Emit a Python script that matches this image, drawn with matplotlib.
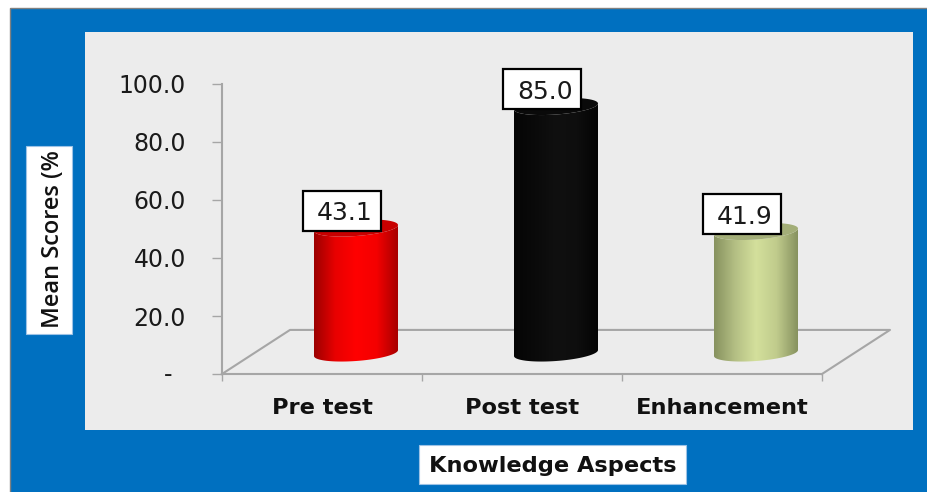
import numpy as np
import matplotlib
matplotlib.use("Agg")
import matplotlib.pyplot as plt
from matplotlib.colors import LinearSegmentedColormap
from matplotlib.patches import Rectangle, Polygon

categories = ["Pre test", "Post test", "Enhancement"]
scores = [43.1, 85.0, 41.9]
yticks = [0, 20, 40, 60, 80, 100]
ytick_labels = ["", "20.0", "40.0", "60.0", "80.0", "100.0"]

# shading across each cylinder, plus the colour of its top face
bar_shades = [
    ["#9c0000", "#e80000", "#ff0000", "#f40000", "#a80000"],
    ["#050505", "#0a0a0a", "#101010", "#0e0e0e", "#040404"],
    ["#87925f", "#b4bf84", "#d4e09c", "#c0cb8c", "#87925f"],
]
cap_colors = ["#c80000", "#0a0a0a", "#a3ae78"]

W, H = 927, 492
AXIS_GREY = "#a6a6a6"

# floor depth and cylinder geometry, in data units
DEPTH_X, DEPTH_Y = 0.34, 15.2
BAR_SHIFT, BAR_BASE = 0.17, 7.24
RX, RY, TILT = 0.21, 2.76, 1.03
# value box size and its offset from the middle of the cylinder top
BOX_W, BOX_H = 0.39, 13.8
BOX_DX, BOX_DY = -0.068, 5.9


def px_rect(x0, y0, x1, y1, **kw):
    # rectangle on the figure, given in pixels from the top left
    return Rectangle((x0 / W, 1 - y1 / H), (x1 - x0) / W, (y1 - y0) / H,
                     transform=fig.transFigure, **kw)


def ellipse(cx, cy, t):
    return cx + RX * np.cos(t), cy - RY * np.sin(t) + TILT * np.cos(t)


def cylinder(ax, cx, value, shades, cap):
    top = BAR_BASE + value
    bx, by = ellipse(cx, BAR_BASE, np.linspace(np.pi, 0, 60))
    tx, ty = ellipse(cx, top, np.linspace(0, np.pi, 60))
    outline = np.column_stack([np.r_[bx, tx], np.r_[by, ty]])
    body = Polygon(outline, closed=True, fc="none", ec="none", transform=ax.transData)
    ax.add_patch(body)
    cmap = LinearSegmentedColormap.from_list("shade", shades)
    img = ax.imshow(np.linspace(0, 1, 128)[None, :], cmap=cmap, aspect="auto",
                    extent=(cx - RX, cx + RX, BAR_BASE - 10, top + 10), zorder=3)
    img.set_clip_path(body)
    cx2, cy2 = ellipse(cx, top, np.linspace(0, 2 * np.pi, 80))
    ax.add_patch(Polygon(np.column_stack([cx2, cy2]), closed=True, fc=cap, ec="none",
                         zorder=4, clip_on=False))


fig = plt.figure(figsize=(W / 100, H / 100), dpi=100, facecolor="white")

fig.add_artist(px_rect(10, 8, 930, 495, fc="#0070c0", ec="#808080", lw=1))
fig.add_artist(px_rect(85, 32, 913, 430, fc="#ececec", ec="none"))
fig.add_artist(px_rect(26, 146, 72, 334, fc="white", ec="#9dc3e6", lw=0.8))
fig.add_artist(px_rect(419, 445, 686, 484, fc="white", ec="#9dc3e6", lw=0.8))

ax = fig.add_axes([222 / W, 1 - 374 / H, 600 / W, 290 / H], facecolor="none")
ax.set_zorder(2)

# floor of the 3-D box, drawn behind the cylinders
ax.plot([0, DEPTH_X, 3 + DEPTH_X, 3], [0, DEPTH_Y, DEPTH_Y, 0], color=AXIS_GREY,
        lw=1.5, clip_on=False, zorder=1)

for i, value in enumerate(scores):
    cx = i + 0.5 + BAR_SHIFT
    cylinder(ax, cx, value, bar_shades[i], cap_colors[i])
    box_x = cx + BOX_DX
    box_y = BAR_BASE + value + BOX_DY
    ax.add_patch(Rectangle((box_x - BOX_W / 2, box_y - BOX_H / 2), BOX_W, BOX_H, fc="white",
                           ec="black", lw=1.6, zorder=5, clip_on=False))
    ax.text(box_x + 0.012, box_y, f"{value:.1f}", ha="center", va="center_baseline",
            fontsize=18, family="DejaVu Sans", color="#1a1a1a", zorder=6)

ax.set_xlim(0, 3)
ax.set_ylim(0, 100)
for side in ("top", "right"):
    ax.spines[side].set_visible(False)
for side in ("left", "bottom"):
    ax.spines[side].set_color(AXIS_GREY)
    ax.spines[side].set_linewidth(1.5)

ax.set_yticks(yticks, ytick_labels, fontsize=17, family="DejaVu Sans", color="#1a1a1a")
ax.tick_params(axis="y", length=7, width=1, color=AXIS_GREY, pad=19)
ax.set_xticks([0, 1, 2, 3], [""] * 4)
ax.tick_params(axis="x", which="major", length=5, width=1, color=AXIS_GREY)
ax.set_xticks([0.5, 1.5, 2.5], categories, minor=True, fontsize=16.2,
              family="DejaVu Sans", fontweight="bold", color="#111111")
ax.tick_params(axis="x", which="minor", length=0, pad=17)

# the zero tick is a dash set further in than the numbers
fig.text(168 / W, 1 - 375 / H, "-", ha="center", va="center", fontsize=17,
         family="DejaVu Sans", color="#1a1a1a")

fig.text(53 / W, 1 - 239 / H, "Mean Scores (%", rotation=90, ha="center", va="center",
         fontsize=17, family="Open Sans", fontweight="semibold", color="#111111")
fig.text(553 / W, 1 - 466 / H, "Knowledge Aspects", ha="center", va="center",
         fontsize=16.2, family="DejaVu Sans", fontweight="bold", color="#111111")

fig.savefig("out.png", dpi=100)
